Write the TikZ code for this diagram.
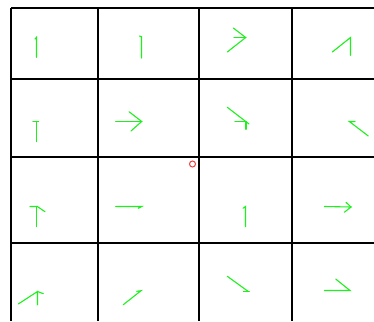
\documentclass[tikz,border=0pt]{standalone}
\definecolor{arrowgreen}{RGB}{30,240,30}
\definecolor{markred}{RGB}{240,60,60}
\tikzset{
  gridline/.style={line width=2pt, black},
  vec/.style={line width=1.1pt, arrowgreen, line cap=round},
  marker/.style={line width=1pt, markred}
}
\begin{document}
\begin{tikzpicture}[x=1pt,y=-1pt]
\useasboundingbox (0,0) rectangle (374,321);
\fill[white] (0,0) rectangle (374,321);
% grid
\foreach \x in {11,98,199,292} \draw[gridline] (\x,8) -- (\x,321);
\foreach \y in {8,79,157,243} \draw[gridline] (11,\y) -- (374,\y);
% row 0
\draw[vec] (36.5,57.3) -- (36.5,37.3) -- (35,39);
\draw[vec] (141.5,58) -- (141.5,36.7) -- (139.5,36);
\draw[vec] (227.3,52) -- (245.7,37.5) -- (233.3,28);
\draw[vec] (234,37.5) -- (245.7,37.5);
\draw[vec] (332.3,52) -- (350.5,37.5) -- (350.5,55.3);
% row 1
\draw[vec] (36.5,141.7) -- (36.5,121.5);
\draw[vec] (33,121.5) -- (38.5,121.5);
\draw[vec] (115.7,121.5) -- (141.7,121.5);
\draw[vec] (129,111.7) -- (141.7,121.5) -- (131,131);
\draw[vec] (227.3,107.3) -- (249,124);
\draw[vec] (235,121.5) -- (246.7,121.5);
\draw[vec] (246,121.5) -- (246,129.3);
\draw[vec] (368.3,136) -- (349.3,121.5) -- (355,121.5);
% row 2
\draw[vec] (36.5,226.7) -- (36.5,206.5);
\draw[vec] (30,206.5) -- (37.3,206.5) -- (45,211.7);
\draw[vec] (115.7,206.5) -- (141.7,206.5) -- (138.3,208.3);
\draw[vec] (245.5,226.7) -- (245.5,206.5) -- (243,208.3);
\draw[vec] (324.3,206.5) -- (351,207);
\draw[vec] (346,202.3) -- (351,207) -- (344.3,212.3);
% row 3
\draw[vec] (18.3,304) -- (37.5,291.5) -- (37.5,304.7);
\draw[vec] (37.5,291.5) -- (43.3,293.7);
\draw[vec] (123.3,304.7) -- (141,290.7) -- (136.7,291.3);
\draw[vec] (227.3,276.3) -- (248.3,291.5);
\draw[vec] (243.3,291.5) -- (249.3,291.5);
\draw[vec] (324.3,290.5) -- (350,290.5) -- (335.7,279);
% marker
\draw[marker] (192.5,164) circle (3);
\end{tikzpicture}
\end{document}
